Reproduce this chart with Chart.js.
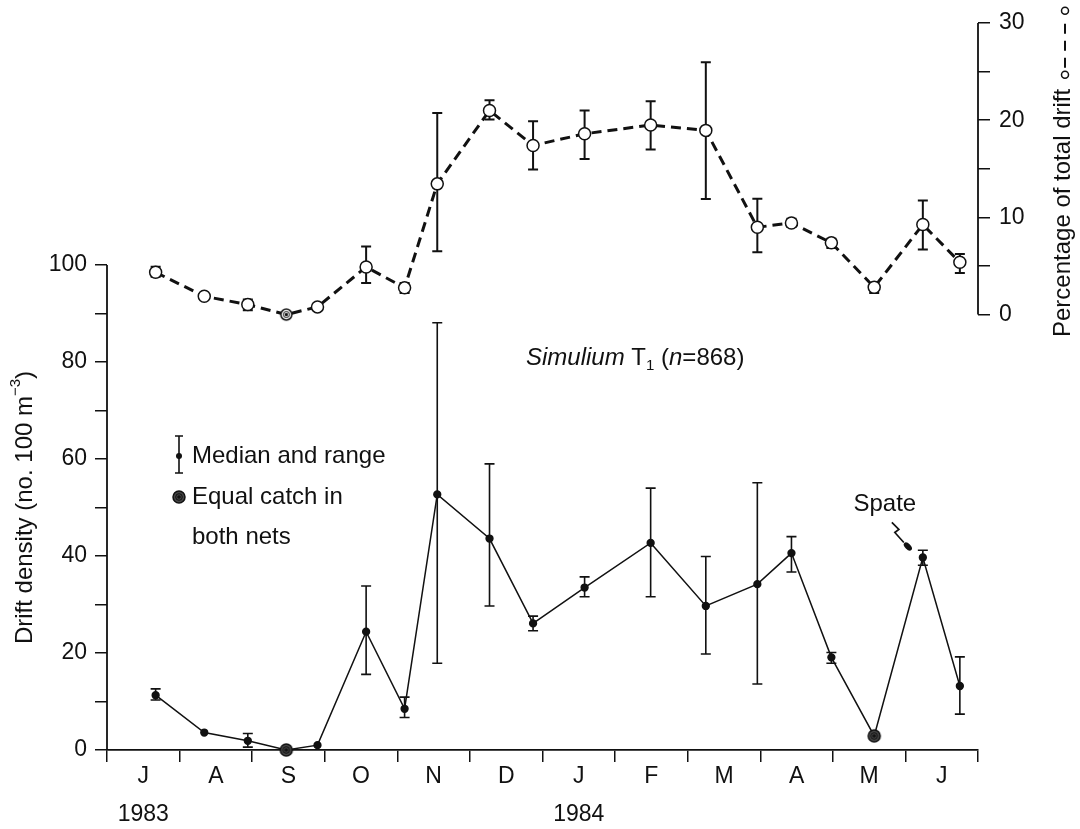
<!DOCTYPE html>
<html>
<head>
<meta charset="utf-8">
<script src="https://cdn.jsdelivr.net/npm/chart.js@4.4.0/dist/chart.umd.min.js"></script>
<style>
  body { margin: 0; background: #fff; }
  #wrap { width: 1080px; height: 829px; }
</style>
</head>
<body>
<div id="wrap"><canvas id="drift"></canvas></div>
<script>
// month boundaries on the x axis (0 = start of July 1983)
const months = ['J', 'A', 'S', 'O', 'N', 'D', 'J', 'F', 'M', 'A', 'M', 'J'];
const yearLabels = ['1983', '', '', '', '', '', '1984', '', '', '', '', ''];
const monthEdges = [0, 1, 2, 3, 4, 5, 6, 7, 8, 9, 10, 11, 12];

// sampling dates, in months from 1 July 1983
const samplePos = [0.67, 1.34, 1.94, 2.47, 2.90, 3.57, 4.10, 4.55, 5.27, 5.87, 6.58, 7.49, 8.25, 8.96, 9.43, 9.98, 10.57, 11.24, 11.75];

// drift density, no. 100 m-3 (median and range)
const densityMedian = [11.3, 3.6, 1.9, 0, 1.0, 24.4, 8.5, 52.7, 43.6, 26.1, 33.5, 42.7, 29.7, 34.2, 40.6, 19.1, 2.9, 39.7, 13.2];
const densityHigh = [12.6, null, 3.4, null, null, 33.8, 10.9, 88.1, 59.0, 27.6, 35.7, 54.0, 39.9, 55.1, 44.0, 20.1, null, 41.2, 19.2];
const densityLow = [10.3, null, 0.6, null, null, 15.6, 6.7, 17.9, 29.7, 24.6, 31.6, 31.6, 19.8, 13.6, 36.7, 17.9, null, 38.1, 7.4];
const densityEqual = [3, 16];

// percentage of total drift (median and range)
const percentMedian = [4.35, 1.88, 1.03, 0, 0.79, 4.9, 2.75, 13.45, 21.0, 17.4, 18.6, 19.5, 18.95, 8.98, 9.43, 7.38, 2.81, 9.26, 5.38];
const percentHigh = [4.91, null, 1.54, null, null, 7.0, 3.26, 20.75, 22.05, 19.9, 21.0, 21.95, 25.95, 11.93, 9.85, 7.79, 3.26, 11.73, 6.24];
const percentLow = [3.88, null, 0.44, null, null, 3.26, 2.23, 6.51, 20.06, 14.92, 16.02, 16.98, 11.9, 6.41, 9.02, 6.86, 2.23, 6.69, 4.29];
const percentEqual = [3];

const leftTicks = [0, 10, 20, 30, 40, 50, 60, 70, 80, 90, 100];
const rightTicks = [0, 5, 10, 15, 20, 25, 30];

const INK = '#111';
const FONT = '"Liberation Sans", Arial, Helvetica, sans-serif';

Chart.defaults.font.family = FONT;
Chart.defaults.font.size = 23;
Chart.defaults.color = INK;

// "equal catch in both nets" marker
function equalCatchMarker(r, fill) {
  const c = document.createElement('canvas');
  c.width = c.height = r * 2 + 4;
  const g = c.getContext('2d');
  const m = r + 2;
  g.beginPath();
  g.arc(m, m, r, 0, Math.PI * 2);
  g.fillStyle = fill;
  g.fill();
  g.lineWidth = 1.5;
  g.strokeStyle = INK;
  g.stroke();
  g.beginPath();
  g.arc(m, m, r * 0.55, 0, Math.PI * 2);
  g.strokeStyle = INK;
  g.lineWidth = 1;
  g.stroke();
  g.beginPath();
  g.arc(m, m, r * 0.3, 0, Math.PI * 2);
  g.fillStyle = INK;
  g.fill();
  return c;
}
const darkMarker = equalCatchMarker(6, '#444');
const openMarker = equalCatchMarker(5.5, '#fff');

function drawBars(ctx, xs, ys, lows, highs, width) {
  ctx.save();
  ctx.strokeStyle = INK;
  ctx.lineWidth = width;
  samplePos.forEach((x, i) => {
    if (highs[i] == null) return;
    const px = xs.getPixelForValue(x);
    const top = ys.getPixelForValue(highs[i]);
    const bot = ys.getPixelForValue(lows[i]);
    ctx.beginPath();
    ctx.moveTo(px, top);
    ctx.lineTo(px, bot);
    ctx.moveTo(px - 5, top);
    ctx.lineTo(px + 5, top);
    ctx.moveTo(px - 5, bot);
    ctx.lineTo(px + 5, bot);
    ctx.stroke();
  });
  ctx.restore();
}

const errorBars = {
  id: 'errorBars',
  beforeDatasetsDraw(chart) {
    const { ctx, scales } = chart;
    drawBars(ctx, scales.x, scales.y, densityLow, densityHigh, 1.6);
    drawBars(ctx, scales.x, scales.y2, percentLow, percentHigh, 2);
  }
};

// axis spines only over the used range, titles, legend and notes
const decorations = {
  id: 'decorations',
  afterDraw(chart) {
    const { ctx, scales } = chart;
    const { x, y, y2 } = scales;
    ctx.save();
    ctx.strokeStyle = INK;
    ctx.fillStyle = INK;
    ctx.lineWidth = 1.8;

    ctx.beginPath();
    ctx.moveTo(y.right, y.getPixelForValue(0));
    ctx.lineTo(y.right, y.getPixelForValue(100));
    ctx.moveTo(y2.left, y2.getPixelForValue(0));
    ctx.lineTo(y2.left, y2.getPixelForValue(30));
    ctx.stroke();

    // left title
    ctx.save();
    ctx.translate(25, (y.getPixelForValue(0) + y.getPixelForValue(100)) / 2);
    ctx.rotate(-Math.PI / 2);
    ctx.textBaseline = 'middle';
    ctx.font = '24px ' + FONT;
    const t1 = 'Drift density (no. 100 m';
    const w1 = ctx.measureText(t1).width;
    ctx.font = '15px ' + FONT;
    const ws = ctx.measureText('−3').width;
    ctx.font = '24px ' + FONT;
    const w3 = ctx.measureText(')').width;
    let sx = -(w1 + ws + w3) / 2;
    ctx.fillText(t1, sx, 0);
    ctx.font = '15px ' + FONT;
    ctx.fillText('−3', sx + w1, -9);
    ctx.font = '24px ' + FONT;
    ctx.fillText(')', sx + w1 + ws, 0);
    ctx.restore();

    // right title with line key
    ctx.save();
    ctx.translate(1063, 337);
    ctx.rotate(-Math.PI / 2);
    ctx.textBaseline = 'middle';
    ctx.font = '24px ' + FONT;
    ctx.fillText('Percentage of total drift', 0, 0);
    const wr = ctx.measureText('Percentage of total drift').width;
    ctx.lineWidth = 1.5;
    ctx.beginPath();
    ctx.arc(wr + 14, 2, 3.5, 0, Math.PI * 2);
    ctx.stroke();
    ctx.beginPath();
    ctx.arc(wr + 78, 2, 3.5, 0, Math.PI * 2);
    ctx.stroke();
    ctx.setLineDash([10, 7]);
    ctx.lineWidth = 2;
    ctx.beginPath();
    ctx.moveTo(wr + 21, 2);
    ctx.lineTo(wr + 72, 2);
    ctx.stroke();
    ctx.restore();

    // species label
    let cx = 526;
    const by = 365;
    const part = (txt, font, dy) => {
      ctx.font = font;
      ctx.fillText(txt, cx, by + (dy || 0));
      cx += ctx.measureText(txt).width;
    };
    ctx.textBaseline = 'alphabetic';
    part('Simulium', 'italic 24px ' + FONT);
    part(' T', '24px ' + FONT);
    part('1', '15px ' + FONT, 5);
    part(' (', '24px ' + FONT);
    part('n', 'italic 24px ' + FONT);
    part('=868)', '24px ' + FONT);

    // legend
    ctx.lineWidth = 1.6;
    ctx.beginPath();
    ctx.moveTo(179, 436);
    ctx.lineTo(179, 473);
    ctx.moveTo(175, 436);
    ctx.lineTo(183, 436);
    ctx.moveTo(175, 473);
    ctx.lineTo(183, 473);
    ctx.stroke();
    ctx.beginPath();
    ctx.arc(179, 456, 3, 0, Math.PI * 2);
    ctx.fill();
    ctx.drawImage(darkMarker, 179 - darkMarker.width / 2, 497 - darkMarker.height / 2);
    ctx.font = '24px ' + FONT;
    ctx.textBaseline = 'middle';
    ctx.fillText('Median and range', 192, 456);
    ctx.fillText('Equal catch in', 192, 497);
    ctx.fillText('both nets', 192, 537);

    // spate note, tied to the June 1984 sample
    const px = x.getPixelForValue(samplePos[17]);
    const py = y.getPixelForValue(densityMedian[17]);
    ctx.textAlign = 'center';
    ctx.fillText('Spate', px - 38, py - 53);
    ctx.lineWidth = 1.7;
    ctx.beginPath();
    ctx.moveTo(px - 31, py - 35);
    ctx.lineTo(px - 24, py - 28);
    ctx.lineTo(px - 28, py - 25);
    ctx.lineTo(px - 19, py - 15);
    ctx.stroke();
    ctx.beginPath();
    ctx.ellipse(px - 15, py - 11, 5, 2.8, Math.PI / 4, 0, Math.PI * 2);
    ctx.fill();
    ctx.restore();
  }
};

new Chart(document.getElementById('drift'), {
  type: 'line',
  data: {
    datasets: [
      {
        label: 'Drift density',
        yAxisID: 'y',
        data: samplePos.map((v, i) => ({ x: v, y: densityMedian[i] })),
        borderColor: INK,
        borderWidth: 1.5,
        backgroundColor: INK,
        pointBackgroundColor: INK,
        pointBorderColor: INK,
        pointRadius: 3.4,
        pointStyle: ctx => densityEqual.includes(ctx.dataIndex) ? darkMarker : 'circle',
        clip: false
      },
      {
        label: 'Percentage of total drift',
        yAxisID: 'y2',
        data: samplePos.map((v, i) => ({ x: v, y: percentMedian[i] })),
        borderColor: INK,
        borderWidth: 3,
        borderDash: [10, 6],
        pointBackgroundColor: '#fff',
        pointBorderColor: INK,
        pointBorderWidth: 1.5,
        pointRadius: 6,
        pointStyle: ctx => percentEqual.includes(ctx.dataIndex) ? openMarker : 'circle',
        clip: false
      }
    ]
  },
  options: {
    responsive: true,
    maintainAspectRatio: false,
    animation: false,
    events: [],
    layout: { padding: { top: 23, left: 0, right: 0, bottom: 0 } },
    elements: { line: { tension: 0 } },
    plugins: { legend: { display: false }, tooltip: { enabled: false } },
    scales: {
      x: {
        type: 'linear',
        min: 0,
        max: 12,
        afterBuildTicks: s => { s.ticks = monthEdges.map(v => ({ value: v })); },
        afterFit: s => { s.height = 79; },
        grid: { drawOnChartArea: false, drawTicks: true, tickLength: 12, color: INK, lineWidth: 1.5 },
        border: { display: true, color: INK, width: 1.8 },
        ticks: {
          autoSkip: false,
          maxRotation: 0,
          labelOffset: 36.3,
          padding: -4,
          font: { size: 23, lineHeight: 1.65 },
          callback: (v, i) => {
            if (i >= months.length) return '';
            return yearLabels[i] ? [months[i], yearLabels[i]] : months[i];
          }
        }
      },
      y: {
        type: 'linear',
        position: 'left',
        min: 0,
        max: 149.9,
        afterBuildTicks: s => { s.ticks = leftTicks.map(v => ({ value: v })); },
        afterFit: s => { s.width = 107; },
        grid: { drawOnChartArea: false, tickLength: 12, color: INK, lineWidth: 1.5 },
        border: { display: false },
        ticks: { padding: 8, callback: v => (v % 20 === 0 ? v : '') }
      },
      y2: {
        type: 'linear',
        position: 'right',
        min: -44.8,
        max: 30,
        afterBuildTicks: s => { s.ticks = rightTicks.map(v => ({ value: v })); },
        afterFit: s => { s.width = 102; },
        grid: { drawOnChartArea: false, tickLength: 12, color: INK, lineWidth: 1.5 },
        border: { display: false },
        ticks: { padding: 9, callback: v => (v % 10 === 0 ? v : '') }
      }
    }
  },
  plugins: [errorBars, decorations]
});
</script>
</body>
</html>
